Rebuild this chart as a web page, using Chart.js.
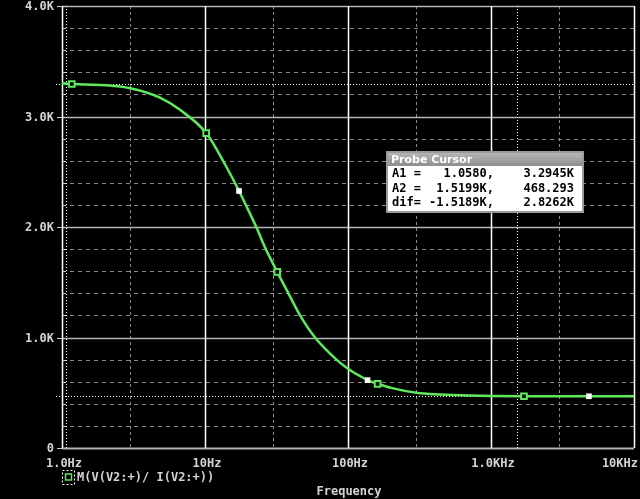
<!DOCTYPE html>
<html>
<head>
<meta charset="utf-8">
<script src="https://cdn.jsdelivr.net/npm/chart.js@4.4.1/dist/chart.umd.min.js"></script>
<style>
  html, body { margin: 0; padding: 0; background: #000; }
  #wrap { width: 640px; height: 499px; position: relative; }
</style>
</head>
<body>
<div id="wrap"><canvas id="chart"></canvas></div>
<script>
// trace M(V(V2:+)/ I(V2:+)) (Hz, ohms)
const freqHz = [1, 1.17, 2, 3, 4.84, 6.68, 10.2, 14, 17.3, 20.3, 23.2, 26.3, 32, 38.3, 46.2, 58.8, 83.4, 100, 121, 137, 161, 200, 300, 440, 700, 1000, 1700, 3000, 4840, 10000];
const impedance = [3300, 3294, 3283, 3255, 3170, 3060, 2850, 2552, 2326, 2140, 1980, 1815, 1594, 1400, 1200, 1000, 798, 718, 652, 614, 581, 544, 500, 484, 474, 470, 468, 468, 468, 468];

// trace symbols
const greenMarkHz = [1.17, 10.2, 32, 161, 1700];
const greenMarkVal = [3294, 2850, 1594, 581, 468];
const whiteMarkHz = [17.3, 137, 4840];
const whiteMarkVal = [2326, 614, 468];

// axes
const xTickValues = [1, 10, 100, 1000, 10000];
const xTickLabels = ['1.0Hz', '10Hz', '100Hz', '1.0KHz', '10KHz'];
const xMinorGrid = [3, 30, 300, 3000];
const yTickValues = [0, 1000, 2000, 3000, 4000];
const yTickLabels = ['0', '1.0K', '2.0K', '3.0K', '4.0K'];
const yMinorGrid = [200, 400, 600, 800, 1200, 1400, 1600, 1800, 2200, 2400, 2600, 2800, 3200, 3400, 3600, 3800];

// probe cursors
const cursorA1 = [1.058, 3294.5];
const cursorA2 = [1519.9, 468.293];
const cursorLabels = ['A1 =', 'A2 =', 'dif='];
const cursorCol1 = ['1.0580,', '1.5199K,', '-1.5189K,'];
const cursorCol2 = ['3.2945K', '468.293', '2.8262K'];

const traceName = 'M(V(V2:+)/ I(V2:+))';
const GREEN = '#5ee85e';
const TXT = '#d4d4d4';
const MONO = '"DejaVu Sans Mono", "Liberation Mono", monospace';

function toXY(xs, ys) {
    return xs.map((x, i) => ({ x: x, y: ys[i] }));
}

const gridPlugin = {
    id: 'probeGrid',
    beforeDatasetsDraw(chart) {
        const ctx = chart.ctx;
        const a = chart.chartArea;
        const xs = chart.scales.x, ys = chart.scales.y;
        ctx.save();
        ctx.lineWidth = 1;

        // minor dashed grid
        ctx.strokeStyle = '#8c8c8c';
        ctx.setLineDash([4, 4]);
        yMinorGrid.forEach(v => {
            const y = Math.round(ys.getPixelForValue(v)) + 0.5;
            ctx.beginPath(); ctx.moveTo(a.left, y); ctx.lineTo(a.right, y); ctx.stroke();
        });
        ctx.setLineDash([3, 3]);
        xMinorGrid.forEach(v => {
            const x = Math.round(xs.getPixelForValue(v)) + 0.5;
            ctx.beginPath(); ctx.moveTo(x, a.top); ctx.lineTo(x, a.bottom); ctx.stroke();
        });
        ctx.setLineDash([]);

        // major horizontal lines
        ctx.strokeStyle = '#b4b4b4';
        yTickValues.forEach(v => {
            const y = Math.round(ys.getPixelForValue(v)) + 0.5;
            ctx.lineWidth = (v === 0) ? 2 : 1.5;
            ctx.beginPath(); ctx.moveTo(a.left, y); ctx.lineTo(a.right, y); ctx.stroke();
        });

        // decade lines
        ctx.strokeStyle = '#ffffff';
        ctx.lineWidth = 1.5;
        xTickValues.forEach(v => {
            const x = Math.round(xs.getPixelForValue(v)) + 0.5;
            ctx.beginPath(); ctx.moveTo(x, a.top); ctx.lineTo(x, a.bottom); ctx.stroke();
        });

        // y tick marks
        ctx.lineWidth = 1;
        ctx.strokeStyle = '#d0d0d0';
        yTickValues.forEach(v => {
            const y = Math.round(ys.getPixelForValue(v)) + 0.5;
            ctx.beginPath(); ctx.moveTo(a.left - 5, y); ctx.lineTo(a.left, y); ctx.stroke();
        });
        yMinorGrid.forEach(v => {
            const y = Math.round(ys.getPixelForValue(v)) + 0.5;
            ctx.beginPath(); ctx.moveTo(a.left, y); ctx.lineTo(a.left + 4, y); ctx.stroke();
        });

        // cursor lines (dotted)
        ctx.strokeStyle = '#ffffff';
        ctx.setLineDash([1, 2]);
        [cursorA1, cursorA2].forEach(c => {
            const x = Math.round(xs.getPixelForValue(c[0])) + 0.5;
            const y = Math.round(ys.getPixelForValue(c[1])) + 0.5;
            ctx.beginPath(); ctx.moveTo(x, a.top); ctx.lineTo(x, a.bottom); ctx.stroke();
            ctx.beginPath(); ctx.moveTo(a.left - 6, y); ctx.lineTo(a.right, y); ctx.stroke();
        });
        ctx.setLineDash([]);

        // tick labels
        ctx.fillStyle = TXT;
        ctx.font = 'bold 12px ' + MONO;
        ctx.textBaseline = 'middle';
        ctx.textAlign = 'right';
        yTickValues.forEach((v, i) => {
            ctx.fillText(yTickLabels[i], a.left - 8, ys.getPixelForValue(v) + 1);
        });
        xTickValues.forEach((v, i) => {
            const x = xs.getPixelForValue(v);
            if (i === xTickValues.length - 1) {
                ctx.textAlign = 'right';
                ctx.fillText(xTickLabels[i], chart.width - 2, a.bottom + 16);
            } else {
                ctx.textAlign = 'center';
                ctx.fillText(xTickLabels[i], x + 2, a.bottom + 16);
            }
        });

        // legend entry + axis title
        const lx = a.left, ly = a.bottom + 22;
        ctx.strokeStyle = '#ffffff';
        ctx.setLineDash([2, 2]);
        ctx.strokeRect(lx + 0.5, ly + 0.5, 12, 14);
        ctx.setLineDash([]);
        ctx.strokeStyle = GREEN;
        ctx.lineWidth = 1.5;
        ctx.strokeRect(lx + 3.5, ly + 4, 6, 6);
        ctx.textAlign = 'left';
        ctx.fillStyle = TXT;
        ctx.fillText(traceName, lx + 15, ly + 8);
        ctx.textAlign = 'center';
        ctx.fillText('Frequency', (a.left + a.right) / 2 + 1, a.bottom + 44);
        ctx.restore();
    },
    afterDraw(chart) {
        // Probe Cursor window
        const ctx = chart.ctx;
        const bx = 387, by = 152, bw = 196, bh = 60;
        ctx.save();
        ctx.fillStyle = '#ffffff';
        ctx.fillRect(bx, by, bw, bh);
        const g = ctx.createLinearGradient(0, by, 0, by + 14);
        g.addColorStop(0, '#b8b8b8');
        g.addColorStop(1, '#8e8e8e');
        ctx.fillStyle = g;
        ctx.fillRect(bx, by, bw, 14);
        ctx.strokeStyle = '#9a9a9a';
        ctx.lineWidth = 2;
        ctx.strokeRect(bx, by, bw, bh);
        ctx.fillStyle = '#ffffff';
        ctx.font = 'bold 11px "DejaVu Sans", sans-serif';
        ctx.textBaseline = 'middle';
        ctx.textAlign = 'left';
        ctx.fillText('Probe Cursor', bx + 4, by + 8);
        ctx.fillStyle = '#000000';
        ctx.font = 'bold 12px ' + MONO;
        cursorLabels.forEach((lab, i) => {
            const y = by + 22 + i * 14.5;
            ctx.textAlign = 'left';
            ctx.fillText(lab, bx + 5, y);
            ctx.textAlign = 'right';
            ctx.fillText(cursorCol1[i], bx + 107, y);
            ctx.fillText(cursorCol2[i], bx + 187, y);
        });
        ctx.restore();
    }
};

new Chart(document.getElementById('chart'), {
    type: 'line',
    data: {
        datasets: [{
            label: 'white marks',
            data: toXY(whiteMarkHz, whiteMarkVal),
            showLine: false,
            pointStyle: 'rect',
            pointRadius: 4,
            backgroundColor: '#ffffff',
            borderColor: '#ffffff',
            borderWidth: 0
        }, {
            label: 'green marks',
            data: toXY(greenMarkHz, greenMarkVal),
            showLine: false,
            pointStyle: 'rect',
            pointRadius: 4,
            backgroundColor: '#000000',
            borderColor: GREEN,
            borderWidth: 2
        }, {
            label: traceName,
            data: toXY(freqHz, impedance),
            borderColor: GREEN,
            borderWidth: 2.5,
            pointRadius: 0,
            cubicInterpolationMode: 'monotone',
            fill: false
        }]
    },
    options: {
        responsive: true,
        maintainAspectRatio: false,
        animation: false,
        layout: { padding: { left: 62, right: 6, top: 6, bottom: 51 } },
        plugins: {
            legend: { display: false },
            tooltip: { enabled: false }
        },
        scales: {
            x: { type: 'logarithmic', min: 1, max: 10000, display: false },
            y: { type: 'linear', min: 0, max: 4000, display: false }
        }
    },
    plugins: [gridPlugin]
});
</script>
</body>
</html>
